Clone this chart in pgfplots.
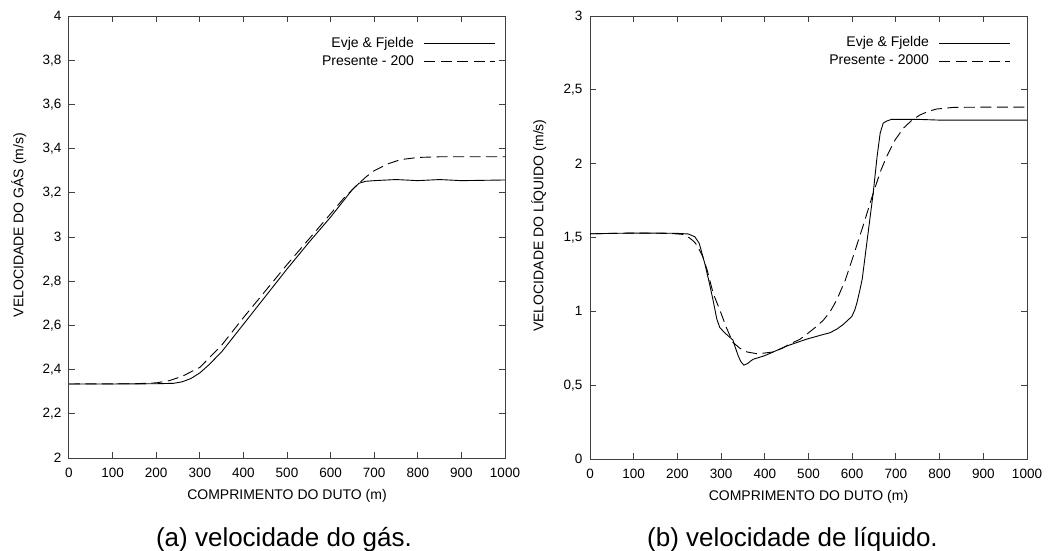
\documentclass[border=0pt]{standalone}
\usepackage{fontspec}
\setmainfont{Liberation Sans}
\usepackage{pgfplots}
\pgfplotsset{compat=1.18}
\pgfplotsset{
  myax/.style={
    scale only axis,
    anchor=south west,
    xmin=0,xmax=1000,
    xtick={0,100,...,1000},
    axis line style={black!75, line width=1pt},
    every tick/.style={black!75, line width=1pt},
    major tick length=6pt,
    tick align=inside,
    /pgf/number format/assume math mode=true,
    /pgf/number format/use comma,
    /pgf/number format/1000 sep={},
    scaled ticks=false,
    tick label style={font=\fontsize{13.5}{16}\selectfont, text=black},
    xticklabel style={anchor=base, yshift=-19pt},
    yticklabel style={anchor=east, xshift=-4pt},
    label style={font=\fontsize{14}{16}\selectfont},
    xlabel style={at={(axis description cs:0.5,-0.0928)}, anchor=base},
    legend cell align=right,
    legend plot pos=right,
    legend style={draw=none, fill=none, font=\fontsize{14}{16}\selectfont,
      anchor=north east, inner sep=0pt, row sep=1pt, column sep=2pt,
      nodes={inner sep=2pt, text height=10pt, text depth=3pt}},
    legend image code/.code={\path (-6pt,0pt); \draw[##1] (0pt,0pt) -- (71pt,0pt);},
  },
  curve/.style={black, line width=0.9pt},
  dcurve/.style={black, line width=0.9pt, dash pattern=on 11pt off 5.5pt},
}
\begin{document}
\begin{tikzpicture}
\useasboundingbox (0,0) rectangle (1049pt,-551pt);
% ---------- left panel ----------
\begin{axis}[myax,
  at={(69pt,-458pt)}, width=436pt, height=442pt,
  ymin=2, ymax=4, ytick={2,2.2,...,4.01},
  xlabel={COMPRIMENTO DO DUTO (m)},
  ylabel={VELOCIDADE DO GÁS (m/s)},
  ylabel style={at={(axis description cs:-0.1047,0.527)}, rotate=0, anchor=base},
  legend style={at={(axis description cs:0.9794,0.9573)}},
]
\addplot[curve] coordinates {
(0,2.335) (100,2.335) (200,2.336) (240,2.338) (260,2.345) (280,2.36) (300,2.385)
(320,2.42) (350,2.48) (400,2.605) (450,2.73) (500,2.855) (550,2.975) (600,3.09)
(630,3.165) (650,3.215) (665,3.243) (680,3.252) (700,3.255) (750,3.26) (800,3.255)
(850,3.26) (900,3.255) (1000,3.258)};
\addlegendentry{Evje \& Fjelde}
\addplot[dcurve] coordinates {
(0,2.335) (150,2.336) (200,2.34) (230,2.35) (260,2.37) (300,2.41) (350,2.51)
(400,2.635) (450,2.755) (500,2.875) (550,2.99) (600,3.105) (630,3.175) (650,3.215)
(680,3.27) (700,3.30) (730,3.33) (760,3.35) (800,3.36) (850,3.363) (1000,3.363)};
\addlegendentry{Presente - 200}
\end{axis}
% ---------- right panel ----------
\begin{axis}[myax,
  at={(590pt,-459pt)}, width=437pt, height=443pt,
  ymin=0, ymax=3, ytick={0,0.5,...,3.01},
  xlabel={COMPRIMENTO DO DUTO (m)},
  ylabel={VELOCIDADE DO LÍQUIDO (m/s)},
  ylabel style={at={(axis description cs:-0.1067,0.527)}, rotate=0, anchor=base},
  legend style={at={(axis description cs:0.9634,0.9576)}},
]
\addplot[curve] coordinates {
(0,1.525) (50,1.528) (100,1.530) (150,1.530) (200,1.528) (225,1.524) (240,1.505)
(250,1.46) (263,1.32) (274,1.18) (282,1.07) (290,0.95) (297,0.89) (310,0.85)
(327,0.806) (332,0.76) (339,0.70) (345,0.66) (352,0.636) (360,0.645) (366,0.660)
(373,0.675) (400,0.70) (450,0.765) (496,0.812) (530,0.84) (549,0.855) (565,0.88)
(579,0.91) (590,0.94) (599,0.965) (606,1.01) (611,1.06) (618,1.15) (623,1.22)
(635,1.50) (648,1.80) (657,2.05) (664,2.207) (671,2.275) (680,2.29) (690,2.30)
(750,2.30) (800,2.295) (1000,2.295)};
\addlegendentry{Evje \& Fjelde}
\addplot[dcurve] coordinates {
(0,1.525) (100,1.530) (180,1.528) (210,1.522) (222,1.51) (235,1.48) (245,1.449)
(258,1.37) (268,1.28) (282,1.12) (297,1.01) (312,0.89) (327,0.79) (343,0.75)
(359,0.725) (384,0.712) (419,0.725) (440,0.75) (458,0.78) (480,0.81) (496,0.845)
(515,0.89) (534,0.94) (550,1.00) (565,1.08) (584,1.21) (602,1.37) (625,1.58)
(648,1.80) (665,1.95) (679,2.05) (698,2.16) (717,2.24) (735,2.29) (755,2.33)
(775,2.355) (793,2.37) (831,2.381) (900,2.383) (1000,2.383)};
\addlegendentry{Presente - 2000}
\end{axis}
\node[anchor=base, font=\fontsize{26}{30}\selectfont] at (284pt,-546pt) {(a) velocidade do gás.};
\node[anchor=base, font=\fontsize{26}{30}\selectfont] at (792.5pt,-546pt) {(b) velocidade de líquido.};
\end{tikzpicture}
\end{document}
